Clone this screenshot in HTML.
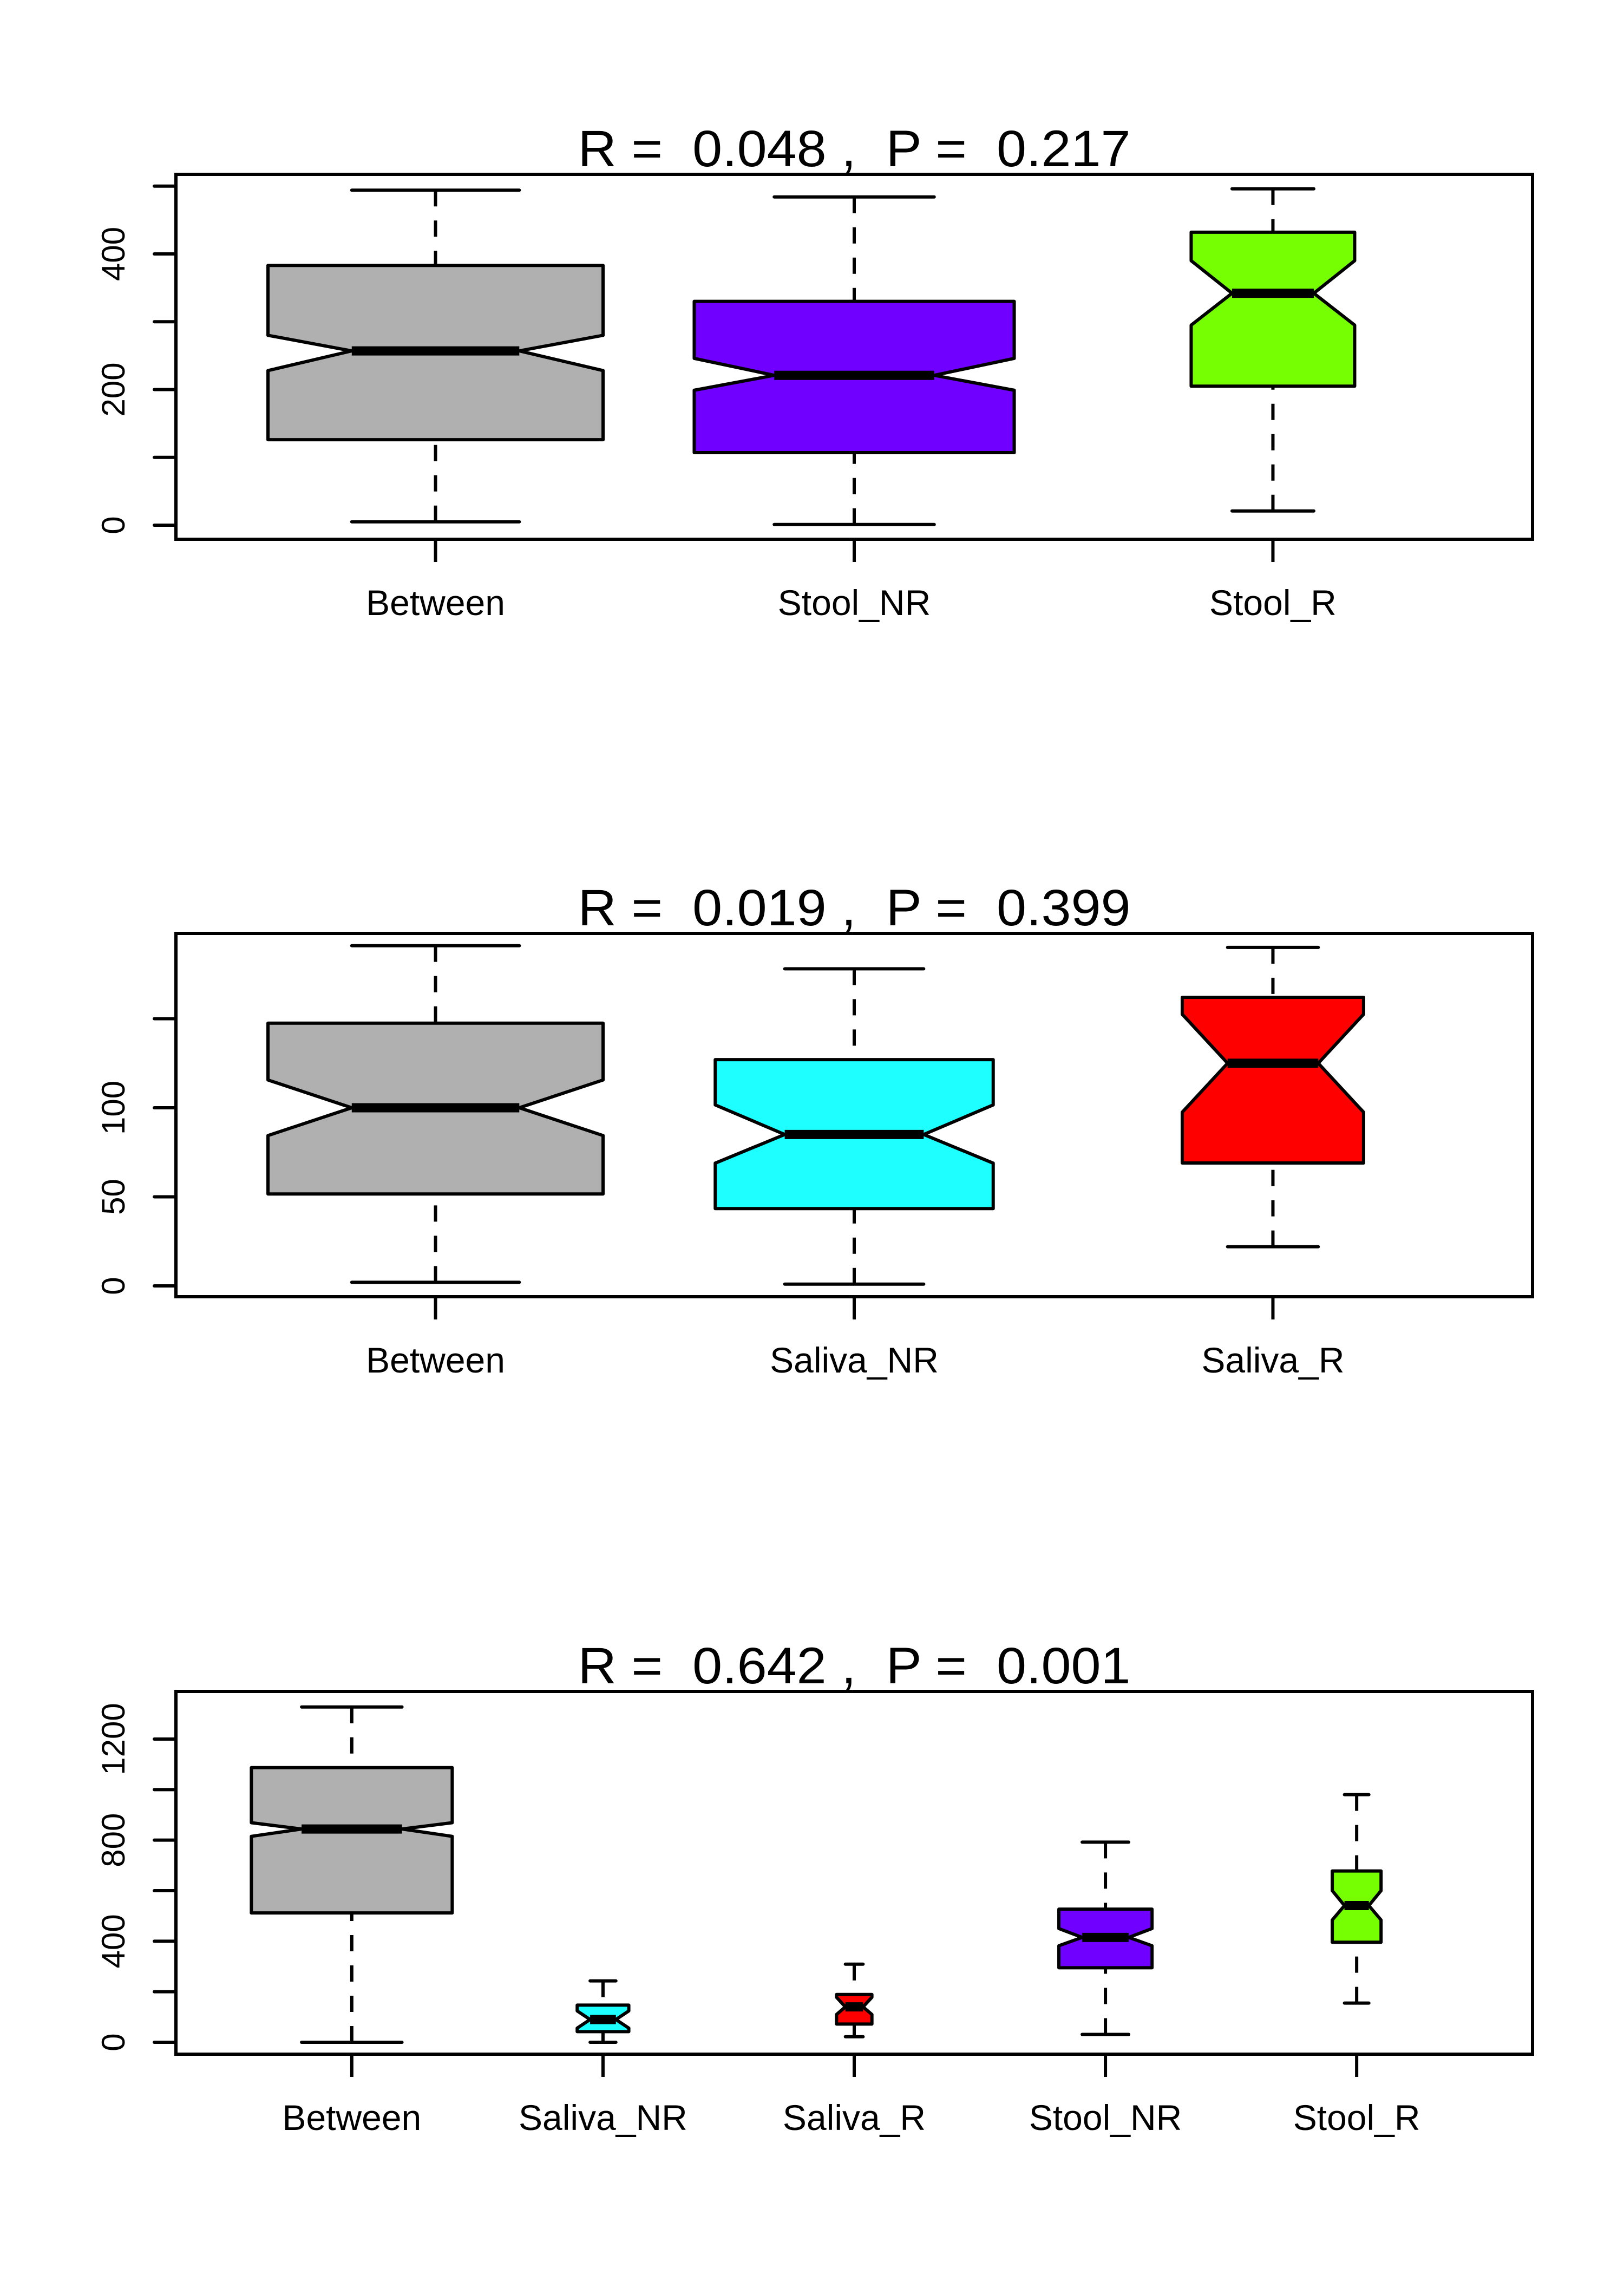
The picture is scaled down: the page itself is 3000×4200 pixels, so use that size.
<!DOCTYPE html>
<html><head><meta charset="utf-8"><style>
html,body{margin:0;padding:0;background:#fff;}
svg{display:block;font-family:"Liberation Sans",Arial,sans-serif;}
.ttl{white-space:pre;}
</style></head><body>
<svg id="fig" width="3000" height="4200" viewBox="0 0 3000 4200" xmlns="http://www.w3.org/2000/svg"></svg>
<script>
// ---- Panel 1 data ----
const p1Categories = ["Between","Stool_NR","Stool_R"];
const p1WhiskLo = [5, 1, 21];
const p1Q1 = [126, 107, 205];
const p1Median = [257, 221, 342];
const p1Q3 = [383, 330, 432];
const p1WhiskHi = [494, 484, 496];
const p1NotchLo = [228, 199, 295];
const p1NotchHi = [280, 246, 390];
const p1N = [420, 383, 100];
const p1Ticks = [0, 100, 200, 300, 400, 500];
const p1TickLabels = ["0", "", "200", "", "400", ""];
const p1Title = "R =  0.048 ,  P =  0.217";

// ---- Panel 2 data ----
const p2Categories = ["Between","Saliva_NR","Saliva_R"];
const p2WhiskLo = [2, 1, 22];
const p2Q1 = [51.6, 43.4, 69];
const p2Median = [100, 85, 125];
const p2Q3 = [147.5, 127, 162];
const p2WhiskHi = [191, 178, 190];
const p2NotchLo = [84.4, 68.9, 97.5];
const p2NotchHi = [115.6, 101.6, 152.5];
const p2N = [420, 289, 123];
const p2Ticks = [0, 50, 100, 150];
const p2TickLabels = ["0", "50", "100", ""];
const p2Title = "R =  0.019 ,  P =  0.399";

// ---- Panel 3 data ----
const p3Categories = ["Between","Saliva_NR","Saliva_R","Stool_NR","Stool_R"];
const p3WhiskLo = [0, 0, 22, 31, 155];
const p3Q1 = [512, 42, 72, 295, 396];
const p3Median = [844, 90, 140, 415, 541];
const p3Q3 = [1087, 147, 189, 527, 678];
const p3WhiskHi = [1327, 243, 309, 792, 980];
const p3NotchLo = [815, 56, 110, 382, 484];
const p3NotchHi = [869, 124, 178, 450, 600];
const p3N = [1000, 66, 31, 215, 59];
const p3Ticks = [0, 200, 400, 600, 800, 1000, 1200];
const p3TickLabels = ["0", "", "400", "", "800", "", "1200"];
const p3Title = "R =  0.642 ,  P =  0.001";

const NS = "http://www.w3.org/2000/svg";
const svg = document.getElementById("fig");
function mk(tag, attrs, parent) {
  const e = document.createElementNS(NS, tag);
  for (const k in attrs) e.setAttribute(k, attrs[k]);
  (parent || svg).appendChild(e);
  return e;
}

const FL = 325, FR = 2831;
const LW = 6;

function panel(cfg) {
  const g = mk("g", {});
  
  
  const yScale = v => cfg.y0px + (v - cfg.v0) * (cfg.y1px - cfg.y0px) / (cfg.v1 - cfg.v0);
  const n = cfg.cats.length;
  const lo = 0.5 - 0.04 * n, hi = n + 0.5 + 0.04 * n;
  const xScale = i => FL + (FR - FL) * ((i + 1) - lo) / (hi - lo);
  const nmax = Math.max(...cfg.N);

  const t = mk("text", {x: (FL + FR) / 2, y: cfg.top - 15, "font-size": 95, "text-anchor": "middle", "class": "ttl", textLength: 1021, lengthAdjust: "spacingAndGlyphs"}, g);
  t.textContent = cfg.title;
  
  

  for (let i = 0; i < n; i++) {
    const bg = mk("g", {}, g);
    
    
    const cx = xScale(i);
    const w = cfg.maxW * Math.sqrt(cfg.N[i] / nmax);
    const x0 = cx - w / 2, x1 = cx + w / 2;
    const m0 = cx - w / 4, m1 = cx + w / 4;
    const yq1 = yScale(cfg.q1[i]), yq3 = yScale(cfg.q3[i]), ym = yScale(cfg.med[i]);
    const ynl = yScale(cfg.nlo[i]), ynh = yScale(cfg.nhi[i]);
    const ywl = yScale(cfg.wlo[i]), ywh = yScale(cfg.whi[i]);
    const w1 = mk("line", {x1: cx, x2: cx, y1: ywh, y2: yq3, stroke: "#000", "stroke-width": LW, "stroke-dasharray": "30,26"}, bg);
    
    
    const w2 = mk("line", {x1: cx, x2: cx, y1: ywl, y2: yq1, stroke: "#000", "stroke-width": LW, "stroke-dasharray": "30,26"}, bg);
    
    
    const c1 = mk("line", {x1: m0, x2: m1, y1: ywh, y2: ywh, stroke: "#000", "stroke-width": LW, "stroke-linecap": "round"}, bg);
    
    
    const c2 = mk("line", {x1: m0, x2: m1, y1: ywl, y2: ywl, stroke: "#000", "stroke-width": LW, "stroke-linecap": "round"}, bg);
    
    
    const pts = [[x0,yq3],[x1,yq3],[x1,ynh],[m1,ym],[x1,ynl],[x1,yq1],[x0,yq1],[x0,ynl],[m0,ym],[x0,ynh]];
    const poly = mk("polygon", {points: pts.map(p => p.join(",")).join(" "), fill: cfg.colors[i], stroke: "#000", "stroke-width": LW, "stroke-linejoin": "round"}, bg);
    
    
    const med = mk("line", {x1: m0, x2: m1, y1: ym, y2: ym, stroke: "#000", "stroke-width": 17}, bg);
    
    
    const xt = mk("line", {x1: cx, x2: cx, y1: cfg.bottom, y2: cfg.bottom + 42, stroke: "#000", "stroke-width": LW}, g);
    
    
    const xl = mk("text", {x: cx, y: cfg.bottom + 140, "font-size": 66, "text-anchor": "middle"}, g);
    xl.textContent = cfg.cats[i];
    
    
  }

  const yt0 = yScale(cfg.ticks[0]), yt1 = yScale(cfg.ticks[cfg.ticks.length - 1]);
  const ax = mk("line", {x1: FL, x2: FL, y1: yt0, y2: yt1, stroke: "#000", "stroke-width": LW}, g);
  
  
  cfg.ticks.forEach((v, k) => {
    const y = yScale(v);
    const tk = mk("line", {x1: FL - 40, x2: FL, y1: y, y2: y, stroke: "#000", "stroke-width": LW, "stroke-linecap": "round"}, g);
    
    
    if (cfg.labels[k]) {
      const tl = mk("text", {x: 0, y: 0, "font-size": 60, "text-anchor": "middle", transform: `translate(230,${y}) rotate(-90)`}, g);
      tl.textContent = cfg.labels[k];
      
      
    }
  });

  const fr = mk("rect", {x: FL, y: cfg.top, width: FR - FL, height: cfg.bottom - cfg.top, fill: "none", stroke: "#000", "stroke-width": LW}, g);
  
  
}

panel({name: "panel-stool", top: 322, bottom: 996, title: p1Title, cats: p1Categories,
  wlo: p1WhiskLo, q1: p1Q1, med: p1Median, q3: p1Q3, whi: p1WhiskHi, nlo: p1NotchLo, nhi: p1NotchHi, N: p1N,
  ticks: p1Ticks, labels: p1TickLabels, v0: 0, y0px: 970, v1: 400, y1px: 469, maxW: 619,
  colors: ["#B0B0B0", "#7000FF", "#76FF03"]});

panel({name: "panel-saliva", top: 1724, bottom: 2395, title: p2Title, cats: p2Categories,
  wlo: p2WhiskLo, q1: p2Q1, med: p2Median, q3: p2Q3, whi: p2WhiskHi, nlo: p2NotchLo, nhi: p2NotchHi, N: p2N,
  ticks: p2Ticks, labels: p2TickLabels, v0: 0, y0px: 2375, v1: 100, y1px: 2046, maxW: 619,
  colors: ["#B0B0B0", "#1EFFFF", "#FF0000"]});

panel({name: "panel-all", top: 3124, bottom: 3794, title: p3Title, cats: p3Categories,
  wlo: p3WhiskLo, q1: p3Q1, med: p3Median, q3: p3Q3, whi: p3WhiskHi, nlo: p3NotchLo, nhi: p3NotchHi, N: p3N,
  ticks: p3Ticks, labels: p3TickLabels, v0: 0, y0px: 3772, v1: 1200, y1px: 3212, maxW: 371,
  colors: ["#B0B0B0", "#1EFFFF", "#FF0000", "#7000FF", "#76FF03"]});
</script>
</body></html>
